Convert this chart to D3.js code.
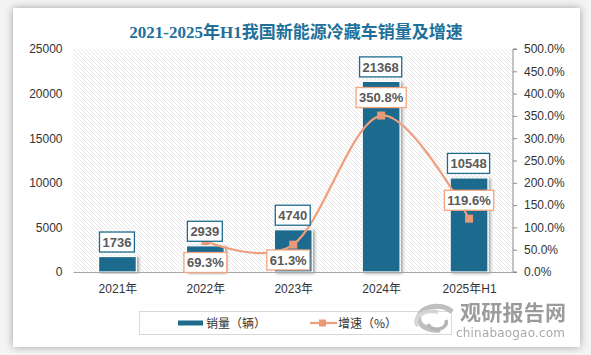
<!DOCTYPE html>
<html><head><meta charset="utf-8">
<script src="https://cdn.jsdelivr.net/npm/d3@7"></script>
<style>
html,body{margin:0;padding:0;background:#f4f4f4;}
svg{display:block;}
</style></head>
<body>
<svg id="c" width="591" height="355"></svg>
<script>
const categories = ["2021年","2022年","2023年","2024年","2025年H1"];
const sales = [1736, 2939, 4740, 21368, 10548];
const growth = [null, 69.3, 61.3, 350.8, 119.6];
const leftTicks = [0, 5000, 10000, 15000, 20000, 25000];
const rightTicks = [0, 50, 100, 150, 200, 250, 300, 350, 400, 450, 500];
const title = "2021-2025年H1我国新能源冷藏车销量及增速";
const legendLabels = ["销量（辆）", "增速（%）"];

// label placement config (offsets of label centre from the point)
const growthLabelOffset = [null, [0, 21.4], [-5, 15.3], [0, -18], [0, -18.4]];

const BLUE = "#1f6b8e", ORANGE = "#ef9e7c", TXT = "#595959";
const svg = d3.select("#c");
const defs = svg.append("defs");
const sh = defs.append("filter").attr("id","cardShadow").attr("x","-5%").attr("y","-5%").attr("width","110%").attr("height","110%");
sh.append("feGaussianBlur").attr("in","SourceAlpha").attr("stdDeviation",4);
sh.append("feOffset").attr("dx",0).attr("dy",0).attr("result","b");
sh.append("feComponentTransfer").append("feFuncA").attr("type","linear").attr("slope",0.35);
const m = sh.append("feMerge"); m.append("feMergeNode"); m.append("feMergeNode").attr("in","SourceGraphic");

const bs = defs.append("filter").attr("id","barShadow").attr("x","-30%").attr("y","-10%").attr("width","160%").attr("height","120%");
bs.append("feGaussianBlur").attr("in","SourceAlpha").attr("stdDeviation",1.5);
bs.append("feOffset").attr("dx",2).attr("dy",1).attr("result","b");
bs.append("feComponentTransfer").append("feFuncA").attr("type","linear").attr("slope",0.35);
const m2 = bs.append("feMerge"); m2.append("feMergeNode"); m2.append("feMergeNode").attr("in","SourceGraphic");

const pat = defs.append("pattern").attr("id","hatch").attr("patternUnits","userSpaceOnUse").attr("width",4).attr("height",4);
pat.append("path").attr("d","M0,0 L4,4 M-1,3 L1,5 M3,-1 L5,1").attr("stroke","#cdcdcd").attr("stroke-width",0.7).attr("stroke-dasharray","1,0.6");

// card
svg.append("rect").attr("x",13).attr("y",8).attr("width",567).attr("height",339).attr("fill","#fff").attr("filter","url(#cardShadow)");

// title
svg.append("text").attr("x",296).attr("y",38).attr("text-anchor","middle")
  .attr("font-family","'Liberation Serif','Noto Sans CJK SC',serif").attr("font-weight","bold")
  .attr("font-size",17).attr("fill","#22709a").text(title);

const L = 73.5, R = 513, T = 49, B = 272;
const x = d3.scalePoint().domain(categories).range([L, R]).padding(0.5);
const bw = x.step() * 0.43;
const yL = d3.scaleLinear().domain([0, 25000]).range([B, T]);
const yR = d3.scaleLinear().domain([0, 500]).range([B, T]);

svg.append("rect").attr("x",L).attr("y",T).attr("width",R-L).attr("height",B-T).attr("fill","url(#hatch)");

// left axis
const gl = svg.append("g").attr("transform",`translate(${L},0)`)
  .call(d3.axisLeft(yL).tickValues(leftTicks).tickSize(0).tickPadding(11).tickFormat(d3.format("d")));
gl.select(".domain").remove();
gl.selectAll("text").attr("font-family","'Liberation Sans',Arial,sans-serif").attr("font-size",12).attr("fill","#333");

// right axis
const gr = svg.append("g").attr("transform",`translate(${R},0)`)
  .call(d3.axisRight(yR).tickValues(rightTicks).tickSize(4).tickPadding(7).tickFormat(d => d.toFixed(1) + "%"));
gr.select(".domain").attr("stroke","#8c8c8c").attr("d",`M4,${T}H0V${B}H4`);
gr.selectAll(".tick line").attr("stroke","#8c8c8c");
gr.selectAll("text").attr("font-family","'Liberation Sans',Arial,sans-serif").attr("font-size",12).attr("fill","#333");

// bars
svg.append("g").selectAll("rect").data(sales).join("rect")
  .attr("x",(d,i)=>x(categories[i]) - bw/2).attr("y",d=>yL(d))
  .attr("width",bw).attr("height",d=>B - yL(d))
  .attr("fill",BLUE).attr("stroke","#fff").attr("stroke-width",1.2).attr("filter","url(#barShadow)");

// baseline
svg.append("line").attr("x1",L).attr("x2",R).attr("y1",B+0.5).attr("y2",B+0.5).attr("stroke","#a6a6a6").attr("stroke-width",1);

// x axis labels
const gx = svg.append("g").attr("transform",`translate(0,${B})`)
  .call(d3.axisBottom(x).tickSize(0).tickPadding(12));
gx.select(".domain").remove();
gx.selectAll("text").attr("font-family","'Liberation Sans','Noto Sans CJK SC',sans-serif").attr("font-size",12).attr("fill","#333");

// growth line
const pts = growth.map((g,i)=>g==null?null:[x(categories[i]), yR(g)]).filter(p=>p);
svg.append("path").attr("d", d3.line().curve(d3.curveCatmullRom.alpha(0))(pts))
  .attr("fill","none").attr("stroke",ORANGE).attr("stroke-width",2.2);
svg.append("g").selectAll("rect").data(pts).join("rect")
  .attr("x",p=>p[0]-4).attr("y",p=>p[1]-4).attr("width",8).attr("height",8).attr("fill","#e89a78");

function box(cx, cy, txt, stroke){
  const g = svg.append("g");
  const t = g.append("text").attr("x",cx).attr("y",cy).attr("dy","0.36em").attr("text-anchor","middle")
    .attr("font-family","'Liberation Sans',Arial,sans-serif").attr("font-weight","bold").attr("font-size",13)
    .attr("fill",TXT).text(txt);
  const w = t.node().getComputedTextLength() + 6, h = 20;
  g.insert("rect","text").attr("x",cx-w/2).attr("y",cy-h/2).attr("width",w).attr("height",h)
    .attr("fill","#fff").attr("stroke",stroke).attr("stroke-width",1.3);
}
// value labels
sales.forEach((d,i)=> box(x(categories[i]) - 0.5, yL(d) - 14.5, String(d), BLUE));
// growth labels
growth.forEach((g,i)=>{ if(g==null) return; const o = growthLabelOffset[i];
  box(x(categories[i]) + o[0], yR(g) + o[1], g.toFixed(1) + "%", "#f0a47f"); });

// legend
svg.append("rect").attr("x",139.5).attr("y",311.5).attr("width",312).attr("height",23).attr("fill","#fff").attr("stroke","#d9d9d9");
svg.append("rect").attr("x",178).attr("y",320.5).attr("width",25).attr("height",5).attr("fill",BLUE);
svg.append("text").attr("x",206).attr("y",327.5).attr("font-family","'Noto Sans CJK SC',sans-serif").attr("font-size",12).attr("fill","#333").text(legendLabels[0]);
svg.append("line").attr("x1",310).attr("x2",337).attr("y1",323).attr("y2",323).attr("stroke",ORANGE).attr("stroke-width",2.2);
svg.append("rect").attr("x",319).attr("y",319.5).attr("width",7).attr("height",7).attr("fill","#e89a78");
svg.append("text").attr("x",338).attr("y",327.5).attr("font-family","'Noto Sans CJK SC',sans-serif").attr("font-size",12).attr("fill","#333").text(legendLabels[1]);

// watermark
const wm = svg.append("g").attr("opacity",0.85);
wm.append("path").attr("d","M452,312 A18,12 0 1,0 440,330").attr("fill","none").attr("stroke","#b5b5b5").attr("stroke-width",5);
wm.append("path").attr("d","M418,326 A16,10 0 0,1 438,312").attr("fill","none").attr("stroke","#cfcfcf").attr("stroke-width",4);
wm.append("path").attr("d","M428,324 A9,7 0 1,0 446,320").attr("fill","none").attr("stroke","#a9a9a9").attr("stroke-width",3.5);
wm.append("text").attr("x",460).attr("y",320).attr("font-family","'Noto Sans CJK SC',sans-serif").attr("font-weight","bold").attr("font-size",21).attr("fill","#8a8a8a").attr("textLength",106).text("观研报告网");
wm.append("text").attr("x",456).attr("y",337).attr("font-family","'DejaVu Sans',sans-serif").attr("font-size",12).attr("fill","#9a9a9a").attr("textLength",109).text("chinabaogao.com");
</script>
</body></html>
